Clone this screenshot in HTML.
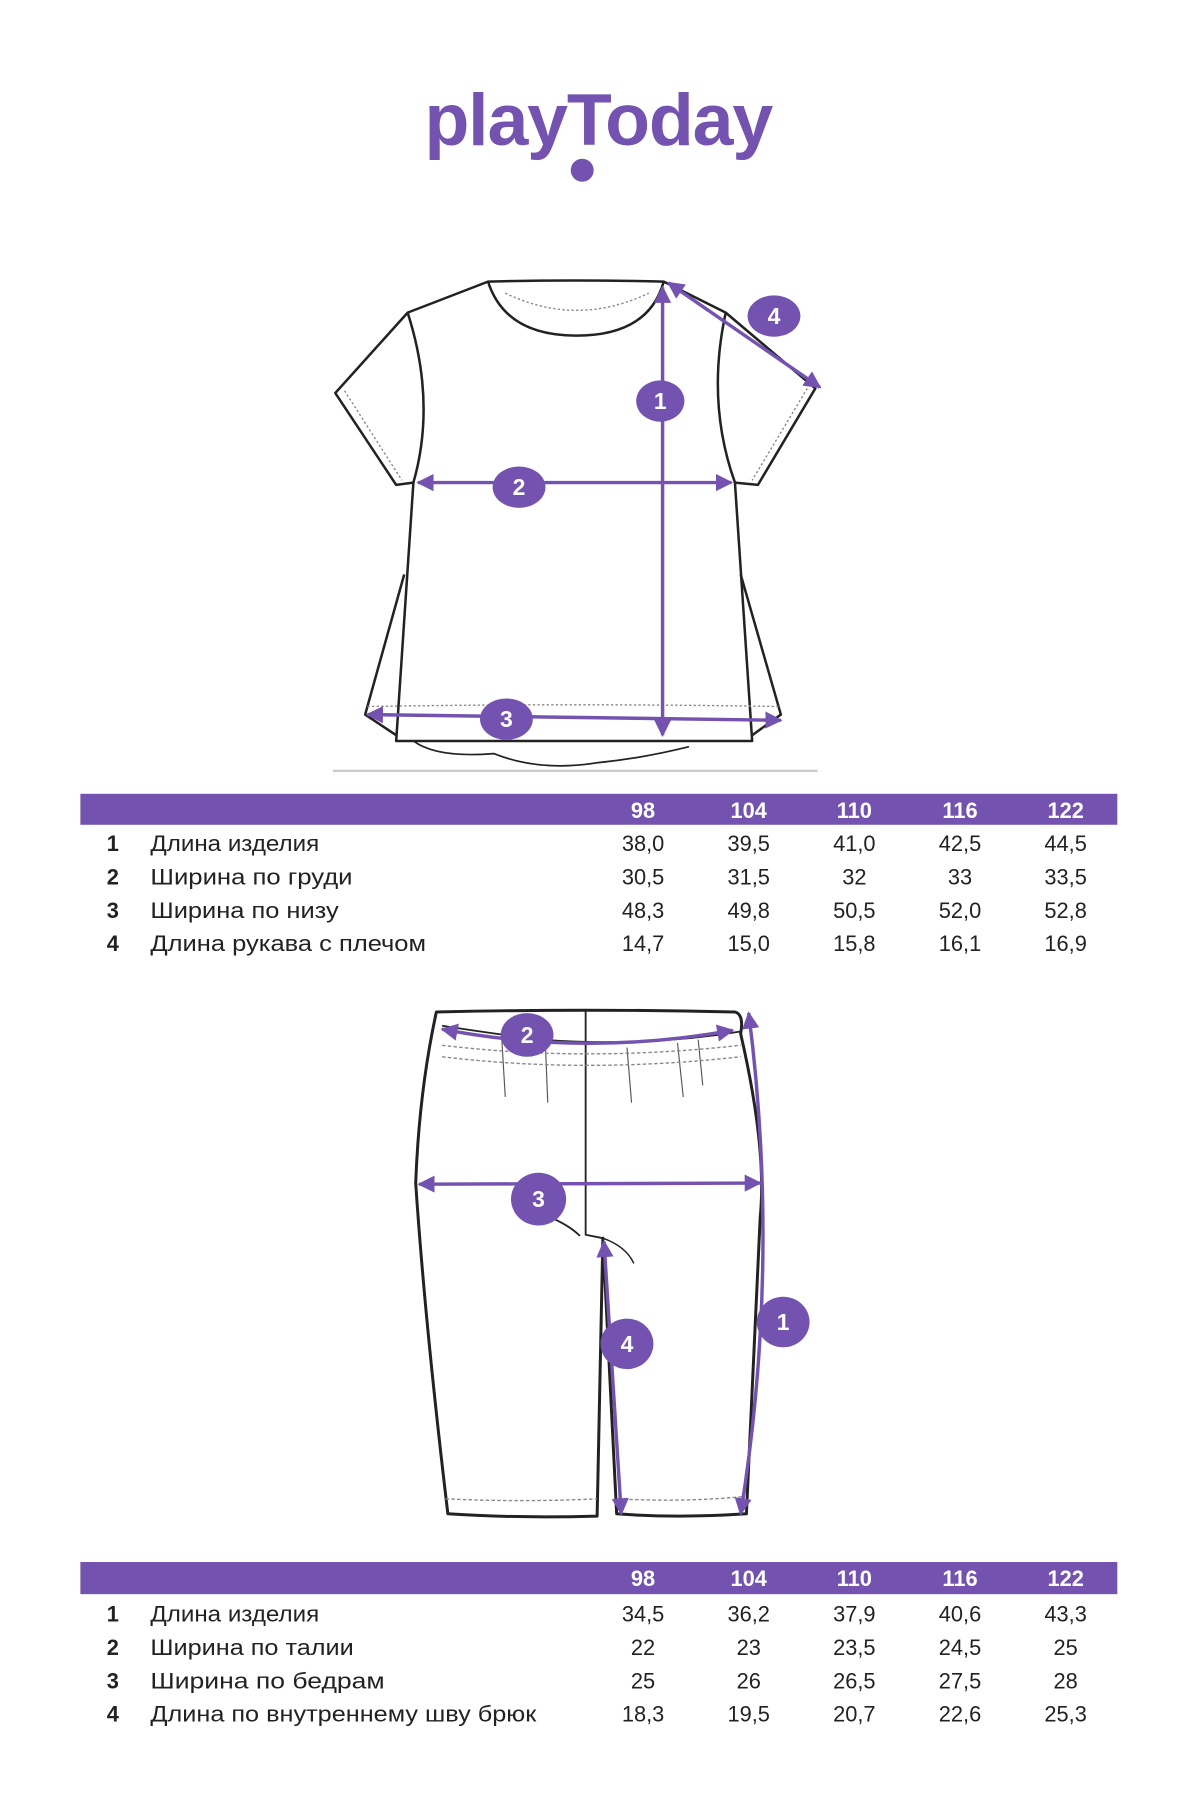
<!DOCTYPE html>
<html><head><meta charset="utf-8"><style>
html,body{margin:0;padding:0;background:#fff}
svg{display:block}
text{font-family:"Liberation Sans","DejaVu Sans",sans-serif}
.t{font-size:19px;fill:#222}
.n{font-size:19px;fill:#222;font-weight:bold}
.h{font-size:19px;fill:#fff;font-weight:bold}
.c{font-size:20px;fill:#fff;font-weight:bold}
</style></head><body>
<svg width="1200" height="1800" viewBox="0 0 1045 1567" xmlns="http://www.w3.org/2000/svg">
<defs>
<marker id="a" viewBox="0 0 10 10" refX="9" refY="5" markerWidth="5" markerHeight="5" orient="auto-start-reverse"><path d="M0,0L10,5L0,10z" fill="#7453b0"/></marker>
</defs>
<text x="521" y="126" text-anchor="middle" font-size="64" font-weight="bold" fill="#7453b0" style="letter-spacing:-1px">playToday</text>
<circle cx="507" cy="148" r="10" fill="#7453b0"/>

<g fill="none" stroke="#222" stroke-width="2.2" stroke-linejoin="round">
<path d="M425,245 Q500,243 578,245 L632,272 L710,338 L660,422 L640,420 L655,645 L345,645 L360,420 L345,422 L292,342 L355,272 Z"/>
<path d="M425,245 Q440,292 502,292 Q565,292 578,245"/>
<path d="M355,272 Q380,350 360,420"/>
<path d="M632,272 Q615,350 640,420"/>
<path d="M352,500 L318,622 L345,640"/>
<path d="M645,500 L680,622 L655,640"/>
<path d="M360,645 Q380,660 430,656 Q470,672 520,664 Q560,660 600,650" stroke-width="1.5"/>
</g>
<g fill="none" stroke="#888" stroke-width="1.2" stroke-dasharray="2,2">
<path d="M300,340 L350,418"/><path d="M703,338 L655,418"/>
<path d="M440,255 Q502,285 565,255"/>
<path d="M320,615 Q500,612 678,615"/>
</g>
<line x1="290" y1="671" x2="712" y2="671" stroke="#ccc" stroke-width="2"/>
<g stroke="#7453b0" stroke-width="3" fill="none">
<line x1="577" y1="250" x2="577" y2="640" marker-start="url(#a)" marker-end="url(#a)"/>
<line x1="364" y1="420" x2="637" y2="420" marker-start="url(#a)" marker-end="url(#a)"/>
<line x1="320" y1="622" x2="680" y2="627" marker-start="url(#a)" marker-end="url(#a)"/>
<line x1="582" y1="246" x2="714" y2="337" marker-start="url(#a)" marker-end="url(#a)"/>
</g>
<g fill="#7453b0">
<ellipse cx="575" cy="349" rx="21" ry="18"/><ellipse cx="452" cy="424" rx="23" ry="18"/>
<ellipse cx="441" cy="626" rx="23" ry="18"/><ellipse cx="674" cy="275" rx="23" ry="18"/>
</g>
<text class="c" x="575" y="356" text-anchor="middle">1</text>
<text class="c" x="452" y="431" text-anchor="middle">2</text>
<text class="c" x="441" y="633" text-anchor="middle">3</text>
<text class="c" x="674" y="282" text-anchor="middle">4</text>

<rect x="70" y="691" width="903" height="27" fill="#7453b0"/>
<g text-anchor="middle">
<text class="h" x="560" y="712">98</text><text class="h" x="652" y="712">104</text><text class="h" x="744" y="712">110</text><text class="h" x="836" y="712">116</text><text class="h" x="928" y="712">122</text>
</g>
<text class="n" x="93" y="741">1</text><text class="t" x="131" y="741" textLength="147" lengthAdjust="spacingAndGlyphs">Длина изделия</text>
<text class="n" x="93" y="770">2</text><text class="t" x="131" y="770" textLength="176" lengthAdjust="spacingAndGlyphs">Ширина по груди</text>
<text class="n" x="93" y="799">3</text><text class="t" x="131" y="799" textLength="164" lengthAdjust="spacingAndGlyphs">Ширина по низу</text>
<text class="n" x="93" y="828">4</text><text class="t" x="131" y="828" textLength="240" lengthAdjust="spacingAndGlyphs">Длина рукава с плечом</text>
<g text-anchor="middle">
<text class="t" x="560" y="741">38,0</text><text class="t" x="652" y="741">39,5</text><text class="t" x="744" y="741">41,0</text><text class="t" x="836" y="741">42,5</text><text class="t" x="928" y="741">44,5</text>
<text class="t" x="560" y="770">30,5</text><text class="t" x="652" y="770">31,5</text><text class="t" x="744" y="770">32</text><text class="t" x="836" y="770">33</text><text class="t" x="928" y="770">33,5</text>
<text class="t" x="560" y="799">48,3</text><text class="t" x="652" y="799">49,8</text><text class="t" x="744" y="799">50,5</text><text class="t" x="836" y="799">52,0</text><text class="t" x="928" y="799">52,8</text>
<text class="t" x="560" y="828">14,7</text><text class="t" x="652" y="828">15,0</text><text class="t" x="744" y="828">15,8</text><text class="t" x="836" y="828">16,1</text><text class="t" x="928" y="828">16,9</text>
</g>

<g fill="none" stroke="#222" stroke-width="2.6" stroke-linejoin="round">
<path d="M380,881 Q510,878 640,881 Q648,883 645,900 Q668,1000 662,1060 Q655,1200 650,1318 Q590,1322 537,1318 L525,1078 L520,1320 Q450,1322 390,1318 Q370,1150 362,1030 Q365,950 380,881 Z"/>
<path d="M385,893 Q430,900 470,905 Q560,912 645,898" stroke-width="1.6"/>
<path d="M510,880 L510,1075 L525,1078" stroke-width="1.6"/>
<path d="M475,1058 Q495,1066 505,1076" stroke-width="1.6"/>
<path d="M525,1078 Q545,1085 552,1100" stroke-width="1.3"/>
<path d="M437,905 L440,955 M475,910 L477,960 M546,912 L550,960 M590,908 L595,955 M608,905 L612,945" stroke="#555" stroke-width="1"/>
</g>
<g fill="none" stroke="#888" stroke-width="1.2" stroke-dasharray="3,2">
<path d="M385,910 Q510,925 645,910"/><path d="M385,920 Q510,935 645,920"/><path d="M388,1305 Q455,1308 520,1305"/><path d="M538,1305 Q595,1308 648,1303"/>
</g>
<g stroke="#7453b0" stroke-width="3" fill="none">
<path d="M652,882 Q680,1100 645,1318" marker-start="url(#a)" marker-end="url(#a)"/>
<path d="M385,896 Q510,920 638,897" marker-start="url(#a)" marker-end="url(#a)"/>
<line x1="365" y1="1031" x2="662" y2="1030" marker-start="url(#a)" marker-end="url(#a)"/>
<line x1="526" y1="1081" x2="541" y2="1318" marker-start="url(#a)" marker-end="url(#a)"/>
</g>
<g fill="#7453b0">
<ellipse cx="682" cy="1151" rx="23" ry="22"/><ellipse cx="459" cy="901" rx="23" ry="19"/>
<ellipse cx="469" cy="1044" rx="24" ry="23"/><ellipse cx="546" cy="1170" rx="23" ry="22"/>
</g>
<text class="c" x="682" y="1158" text-anchor="middle">1</text>
<text class="c" x="459" y="908" text-anchor="middle">2</text>
<text class="c" x="469" y="1051" text-anchor="middle">3</text>
<text class="c" x="546" y="1177" text-anchor="middle">4</text>

<rect x="70" y="1360" width="903" height="28" fill="#7453b0"/>
<g text-anchor="middle">
<text class="h" x="560" y="1381">98</text><text class="h" x="652" y="1381">104</text><text class="h" x="744" y="1381">110</text><text class="h" x="836" y="1381">116</text><text class="h" x="928" y="1381">122</text>
</g>
<text class="n" x="93" y="1412">1</text><text class="t" x="131" y="1412" textLength="147" lengthAdjust="spacingAndGlyphs">Длина изделия</text>
<text class="n" x="93" y="1441">2</text><text class="t" x="131" y="1441" textLength="177" lengthAdjust="spacingAndGlyphs">Ширина по талии</text>
<text class="n" x="93" y="1470">3</text><text class="t" x="131" y="1470" textLength="204" lengthAdjust="spacingAndGlyphs">Ширина по бедрам</text>
<text class="n" x="93" y="1499">4</text><text class="t" x="131" y="1499" textLength="336" lengthAdjust="spacingAndGlyphs">Длина по внутреннему шву брюк</text>
<g text-anchor="middle">
<text class="t" x="560" y="1412">34,5</text><text class="t" x="652" y="1412">36,2</text><text class="t" x="744" y="1412">37,9</text><text class="t" x="836" y="1412">40,6</text><text class="t" x="928" y="1412">43,3</text>
<text class="t" x="560" y="1441">22</text><text class="t" x="652" y="1441">23</text><text class="t" x="744" y="1441">23,5</text><text class="t" x="836" y="1441">24,5</text><text class="t" x="928" y="1441">25</text>
<text class="t" x="560" y="1470">25</text><text class="t" x="652" y="1470">26</text><text class="t" x="744" y="1470">26,5</text><text class="t" x="836" y="1470">27,5</text><text class="t" x="928" y="1470">28</text>
<text class="t" x="560" y="1499">18,3</text><text class="t" x="652" y="1499">19,5</text><text class="t" x="744" y="1499">20,7</text><text class="t" x="836" y="1499">22,6</text><text class="t" x="928" y="1499">25,3</text>
</g>
</svg>
</body></html>
